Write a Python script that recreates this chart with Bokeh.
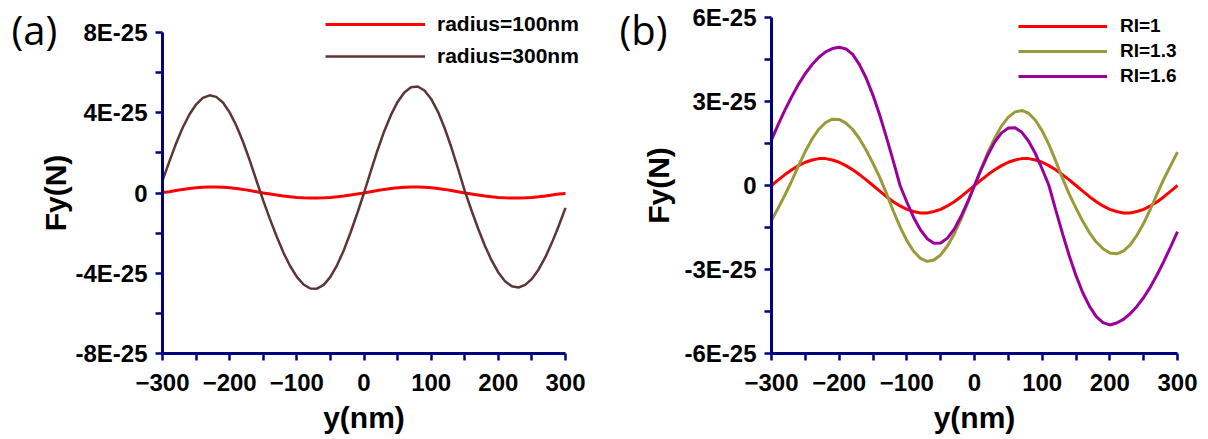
from bokeh.plotting import figure
from bokeh.models import (Range1d, FixedTicker, CustomJSTickFormatter, Legend,
                          LegendItem, Label, ColumnDataSource, LinearAxis)
from bokeh.layouts import row
from bokeh.embed import file_html
from bokeh.resources import INLINE

# ---------------- data (force values in units of 1E-25 N) ----------------
Y_NM = [-300, -290, -280, -270, -260, -250, -240, -230, -220, -210,
        -200, -190, -180, -170, -160, -150, -140, -130, -120, -110,
        -100, -90, -80, -70, -60, -50, -40, -30, -20, -10,
        0, 10, 20, 30, 40, 50, 60, 70, 80, 90,
        100, 110, 120, 130, 140, 150, 160, 170, 180, 190,
        200, 210, 220, 230, 240, 250, 260, 270, 280, 290, 300]

RADIUS_100 = [0.03, 0.06, 0.12, 0.18, 0.22, 0.26, 0.29, 0.30, 0.30, 0.29,
              0.26, 0.22, 0.18, 0.12, 0.06, 0.00, -0.05, -0.10, -0.15, -0.19,
              -0.22, -0.24, -0.25, -0.25, -0.24, -0.22, -0.19, -0.15, -0.10, -0.05,
              0.00, 0.06, 0.12, 0.18, 0.22, 0.26, 0.29, 0.30, 0.30, 0.29,
              0.26, 0.22, 0.18, 0.12, 0.06, 0.00, -0.05, -0.10, -0.15, -0.19,
              -0.22, -0.24, -0.25, -0.25, -0.24, -0.22, -0.19, -0.15, -0.10, -0.05, -0.03]

RADIUS_300 = [0.62, 1.55, 2.45, 3.25, 3.91, 4.41, 4.74, 4.87, 4.79, 4.51,
              4.02, 3.35, 2.54, 1.61, 0.61, -0.38, -1.30, -2.17, -2.97, -3.64,
              -4.18, -4.56, -4.76, -4.77, -4.58, -4.18, -3.59, -2.85, -1.97, -1.01,
              0.00, 1.08, 2.12, 3.07, 3.88, 4.54, 5.01, 5.27, 5.31, 5.11,
              4.69, 4.06, 3.24, 2.28, 1.22, 0.11, -0.86, -1.78, -2.63, -3.36,
              -3.96, -4.40, -4.65, -4.71, -4.58, -4.28, -3.81, -3.20, -2.46, -1.63, -0.74]

RI_1 = [0.00, 0.20, 0.39, 0.56, 0.71, 0.83, 0.91, 0.96, 0.96, 0.91,
        0.83, 0.71, 0.56, 0.39, 0.20, 0.00, -0.20, -0.40, -0.58, -0.73,
        -0.85, -0.93, -0.98, -0.98, -0.93, -0.85, -0.73, -0.58, -0.40, -0.20,
        0.00, 0.20, 0.39, 0.56, 0.71, 0.83, 0.91, 0.96, 0.96, 0.91,
        0.83, 0.71, 0.56, 0.39, 0.20, 0.00, -0.20, -0.40, -0.58, -0.73,
        -0.85, -0.93, -0.98, -0.98, -0.93, -0.85, -0.73, -0.58, -0.40, -0.20, 0.00]

RI_13 = [-1.25, -0.80, -0.33, 0.17, 0.71, 1.22, 1.66, 2.01, 2.25, 2.37,
         2.36, 2.23, 2.00, 1.67, 1.26, 0.79, 0.29, -0.29, -0.91, -1.48,
         -1.97, -2.35, -2.60, -2.71, -2.66, -2.48, -2.16, -1.73, -1.21, -0.62,
         0.00, 0.61, 1.19, 1.70, 2.13, 2.44, 2.63, 2.68, 2.58, 2.33,
         1.95, 1.46, 0.88, 0.26, -0.31, -0.81, -1.28, -1.69, -2.02, -2.26,
         -2.41, -2.44, -2.34, -2.12, -1.78, -1.35, -0.84, -0.29, 0.24, 0.72, 1.19]

RI_16 = [1.63, 2.18, 2.70, 3.18, 3.62, 4.00, 4.32, 4.58, 4.77, 4.89,
         4.94, 4.88, 4.68, 4.32, 3.83, 3.22, 2.51, 1.71, 0.87, 0.00,
         -0.59, -1.14, -1.58, -1.90, -2.06, -2.05, -1.88, -1.56, -1.11, -0.58,
         0.00, 0.58, 1.11, 1.56, 1.88, 2.05, 2.06, 1.90, 1.58, 1.14,
         0.59, 0.00, -0.87, -1.71, -2.51, -3.22, -3.83, -4.32, -4.68, -4.90,
         -4.98, -4.91, -4.78, -4.58, -4.32, -4.00, -3.62, -3.18, -2.70, -2.18, -1.65]

X_TICKS = [-300, -200, -100, 0, 100, 200, 300]
X_MINOR = [-250, -150, -50, 50, 150, 250]
A_YTICKS = [-8, -4, 0, 4, 8]
A_YMINOR = [-6, -2, 2, 6]
B_YTICKS = [-6, -3, 0, 3, 6]
B_YMINOR = [-4.5, -1.5, 1.5, 4.5]

FONT = "Liberation Sans"
AXIS_COLOR = "#000080"
FIG_H = 439


def make_fig(width, ylim, yticks, yminor, frame_l, frame_r, frame_t, frame_b, ylabel_standoff):
    """Frame covers the whole figure; axes are pinned at the data edges so that
    legends and panel tags outside the data box are not clipped."""
    xs = 600.0 / (frame_r - frame_l)
    ys = 2.0 * ylim / (frame_b - frame_t)
    x0 = -300 - frame_l * xs
    x1 = 300 + (width - frame_r) * xs
    y1 = ylim + frame_t * ys
    y0 = -ylim - (FIG_H - frame_b) * ys
    p = figure(width=width, height=FIG_H, output_backend="svg", toolbar_location=None,
               x_range=Range1d(x0, x1), y_range=Range1d(y0, y1),
               x_axis_location=None, y_axis_location=None,
               min_border=0, min_border_left=0, min_border_right=0,
               min_border_top=0, min_border_bottom=0)
    p.grid.visible = False
    p.outline_line_color = None

    xaxis = LinearAxis(fixed_location=-ylim, bounds=(-300, 300),
                       ticker=FixedTicker(ticks=X_TICKS, minor_ticks=X_MINOR))
    yaxis = LinearAxis(fixed_location=-300, bounds=(-ylim, ylim),
                       ticker=FixedTicker(ticks=yticks, minor_ticks=yminor))
    yaxis.formatter = CustomJSTickFormatter(
        code="return tick == 0 ? '0' : tick.toFixed(0) + 'E-25';")
    for ax in (xaxis, yaxis):
        ax.axis_line_color = AXIS_COLOR
        ax.axis_line_width = 3
        ax.major_tick_line_color = AXIS_COLOR
        ax.major_tick_line_width = 2.5
        ax.minor_tick_line_color = AXIS_COLOR
        ax.minor_tick_line_width = 2.5
        ax.major_tick_in = 0
        ax.major_tick_out = 7
        ax.minor_tick_in = 0
        ax.minor_tick_out = 7
        ax.major_label_text_font = FONT
        ax.major_label_text_font_style = "bold"
        ax.major_label_text_font_size = "24px"
        ax.major_label_text_color = "black"
        ax.axis_label_text_font = FONT
        ax.axis_label_text_font_style = "bold"
        ax.axis_label_text_font_size = "30px"
        ax.axis_label_text_color = "black"
    xaxis.axis_label = "y(nm)"
    yaxis.axis_label = "Fy(N)"
    xaxis.major_label_standoff = 13
    xaxis.axis_label_standoff = 7
    yaxis.major_label_standoff = 8
    yaxis.axis_label_standoff = ylabel_standoff
    p.add_layout(xaxis, "below")
    p.add_layout(yaxis, "left")
    return p


def style_legend(leg, glyph_w, font_size, spacing, standoff):
    leg.glyph_width = glyph_w
    leg.glyph_height = 20
    leg.label_height = 20
    leg.spacing = spacing
    leg.padding = 0
    leg.margin = 0
    leg.label_standoff = standoff
    leg.border_line_alpha = 0
    leg.background_fill_alpha = 0
    leg.label_text_font = FONT
    leg.label_text_font_style = "bold"
    leg.label_text_font_size = font_size
    leg.label_text_color = "black"


# ---------------- panel (a) ----------------
src_a = ColumnDataSource(dict(y=Y_NM, r100=RADIUS_100, r300=RADIUS_300))
pa = make_fig(608, 8, A_YTICKS, A_YMINOR, 162, 565, 32, 353, 0)
ra1 = pa.line("y", "r100", source=src_a, line_color="#FF0000", line_width=3)
ra2 = pa.line("y", "r300", source=src_a, line_color="#5E3535", line_width=2.5)
leg_a = Legend(items=[LegendItem(label="radius=100nm", renderers=[ra1]),
                      LegendItem(label="radius=300nm", renderers=[ra2])],
               location=(325, 371))
style_legend(leg_a, 100, "21px", 8, 12)
pa.add_layout(leg_a)
pa.add_layout(Label(x=11, y=410, x_units="screen", y_units="screen", text="(a)",
                    text_font="Open Sans", text_font_size="40px",
                    text_baseline="middle", text_align="left", text_color="black"))

# ---------------- panel (b) ----------------
src_b = ColumnDataSource(dict(y=Y_NM, ri1=RI_1, ri13=RI_13, ri16=RI_16))
pb = make_fig(600, 6, B_YTICKS, B_YMINOR, 163, 569, 17, 353, 6)
rb1 = pb.line("y", "ri1", source=src_b, line_color="#FF0000", line_width=3)
rb2 = pb.line("y", "ri13", source=src_b, line_color="#9A9A3A", line_width=3)
rb3 = pb.line("y", "ri16", source=src_b, line_color="#9A009A", line_width=3)
leg_b = Legend(items=[LegendItem(label="RI=1", renderers=[rb1]),
                      LegendItem(label="RI=1.3", renderers=[rb2]),
                      LegendItem(label="RI=1.6", renderers=[rb3])],
               location=(410, 352))
style_legend(leg_b, 89, "19px", 3, 13)
pb.add_layout(leg_b)
pb.add_layout(Label(x=11, y=410, x_units="screen", y_units="screen", text="(b)",
                    text_font="Open Sans", text_font_size="40px",
                    text_baseline="middle", text_align="left", text_color="black"))

layout = row(pa, pb, spacing=0)
open("out.html", "w").write(file_html(layout, INLINE))
